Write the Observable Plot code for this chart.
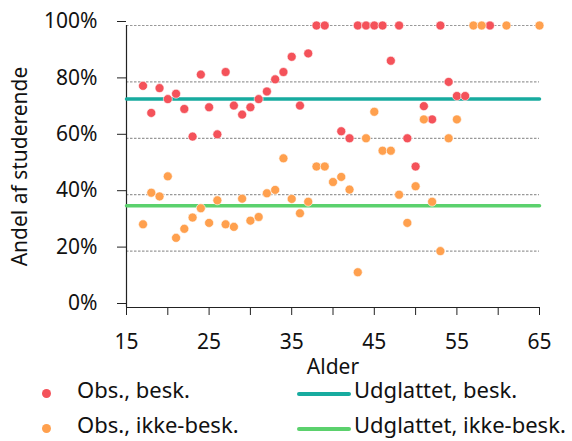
<!DOCTYPE html>
<html>
<head>
<meta charset="utf-8">
<script src="https://cdn.jsdelivr.net/npm/d3@7"></script>
<script src="https://cdn.jsdelivr.net/npm/@observablehq/plot@0.6"></script>
<style>
  html, body { margin: 0; padding: 0; background: #fff; }
  body { width: 572px; height: 441px; overflow: hidden; font-family: "Noto Sans", sans-serif; }
  #chart svg { display: block; }
  #legend { position: relative; width: 572px; height: 56px; font-size: 22px; color: #111; }
  #legend .dot { position: absolute; width: 9px; height: 9px; border-radius: 50%; }
  #legend .ln { position: absolute; height: 4px; border-radius: 2px; }
  #legend .tx { position: absolute; line-height: 22px; white-space: nowrap; }
</style>
</head>
<body>
<div id="chart"></div>
<div id="legend"></div>
<script>
// Observed shares, employed (besk.)
const ageBesk = [17,18,19,20,21,22,23,24,25,26,27,28,29,30,31,32,33,34,35,36,37,38,39,41,42,43,44,45,46,47,48,49,50,51,52,53,54,55,56,59];
const valBesk = [78.6,69.0,77.8,73.9,75.8,70.4,60.6,82.6,71.0,61.4,83.5,71.6,68.4,71.0,73.9,76.6,80.9,83.5,88.9,71.6,90.1,100,100,62.5,60,100,100,100,100,87.5,100,60,50,71.4,66.7,100,80,75,75,100];
// Observed shares, not employed (ikke-besk.)
const ageIkke = [17,18,19,20,21,22,23,24,25,26,27,28,29,30,31,32,33,34,35,36,37,38,39,40,41,42,43,44,45,46,47,48,49,50,51,52,53,54,55,57,58,61,65];
const valIkke = [29.5,40.7,39.4,46.5,24.7,27.9,31.9,35.2,30,38,29.5,28.6,38.6,30.8,32.1,40.5,41.7,52.9,38.5,33.4,37.5,50,50,44.5,46.3,41.8,12.5,60,69.4,55.6,55.6,40,30,43,66.7,37.5,20,60,66.7,100,100,100,100];
// Smoothed levels
const smoothBesk = 73.9;
const smoothIkke = 36.1;
const xTicks = [15,20,25,30,35,40,45,50,55,60,65];
const yTicks = [0,20,40,60,80,100];
const gridTicks = [20,40,60,80,100];
const legendLabels = ["Obs., besk.", "Obs., ikke-besk.", "Udglattet, besk.", "Udglattet, ikke-besk."];
const colors = {red: "#f4525a", orange: "#ffa04e", teal: "#17ab9f", green: "#5bd16d"};

const besk = ageBesk.map((a, i) => ({age: a, v: valBesk[i]}));
const ikke = ageIkke.map((a, i) => ({age: a, v: valIkke[i]}));
const smooth1 = [{age: 15, v: smoothBesk}, {age: 65, v: smoothBesk}];
const smooth2 = [{age: 15, v: smoothIkke}, {age: 65, v: smoothIkke}];

const chart = Plot.plot({
  width: 572,
  height: 385,
  marginLeft: 126,
  marginRight: 33,
  marginTop: 25,
  marginBottom: 78,
  style: {fontFamily: "Noto Sans", fontSize: "21px", color: "#111", background: "#fff", overflow: "visible"},
  x: {domain: [15, 65]},
  y: {domain: [0, 100]},
  marks: [
    Plot.ruleY(gridTicks, {stroke: "#999", strokeWidth: 1.2, strokeDasharray: "2.5,1.5"}),
    Plot.axisY({ticks: yTicks, tickSize: 9, tickPadding: 20, tickFormat: d => d + "%", dy: -4,
      label: "Andel af studerende", labelAnchor: "center", labelOffset: 114, labelArrow: "none", stroke: "#222"}),
    Plot.axisX({ticks: xTicks, tickSize: 8, tickPadding: 19, tickFormat: d => ((d - 15) % 10 === 0 ? String(d) : ""),
      label: "Alder", labelAnchor: "center", labelOffset: 66, labelArrow: "none", stroke: "#222"}),
    Plot.ruleX([15], {stroke: "#222", strokeWidth: 1.2}),
    Plot.ruleY([0], {stroke: "#222", strokeWidth: 1.2}),
    Plot.line(smooth1, {x: "age", y: "v", stroke: colors.teal, strokeWidth: 3.5}),
    Plot.line(smooth2, {x: "age", y: "v", stroke: colors.green, strokeWidth: 3.5}),
    Plot.dot(besk, {x: "age", y: "v", r: 4.5, fill: colors.red, stroke: "#fff", strokeWidth: 0.6}),
    Plot.dot(ikke, {x: "age", y: "v", r: 4.5, fill: colors.orange, stroke: "#fff", strokeWidth: 0.6})
  ]
});
document.getElementById("chart").appendChild(chart);

// Legend (below the SVG)
const lg = document.getElementById("legend");
const items = [
  {kind: "dot", color: colors.red, label: legendLabels[0], mx: 46, my: 8, tx: 77, ty: 4},
  {kind: "dot", color: colors.orange, label: legendLabels[1], mx: 46, my: 43, tx: 77, ty: 39},
  {kind: "ln", color: colors.teal, label: legendLabels[2], mx: 297, my: 9, tx: 354, ty: 4},
  {kind: "ln", color: colors.green, label: legendLabels[3], mx: 297, my: 44, tx: 354, ty: 39}
];
for (const it of items) {
  const m = document.createElement("div");
  m.className = it.kind;
  m.style.background = it.color;
  if (it.kind === "dot") { m.style.left = (it.mx - 4.5) + "px"; m.style.top = (it.my - 4.5) + "px"; }
  else { m.style.left = it.mx + "px"; m.style.width = "54px"; m.style.top = (it.my - 2) + "px"; }
  lg.appendChild(m);
  const t = document.createElement("div");
  t.className = "tx";
  t.textContent = it.label;
  t.style.left = it.tx + "px";
  t.style.top = (it.ty - 11) + "px";
  lg.appendChild(t);
}
</script>
</body>
</html>
